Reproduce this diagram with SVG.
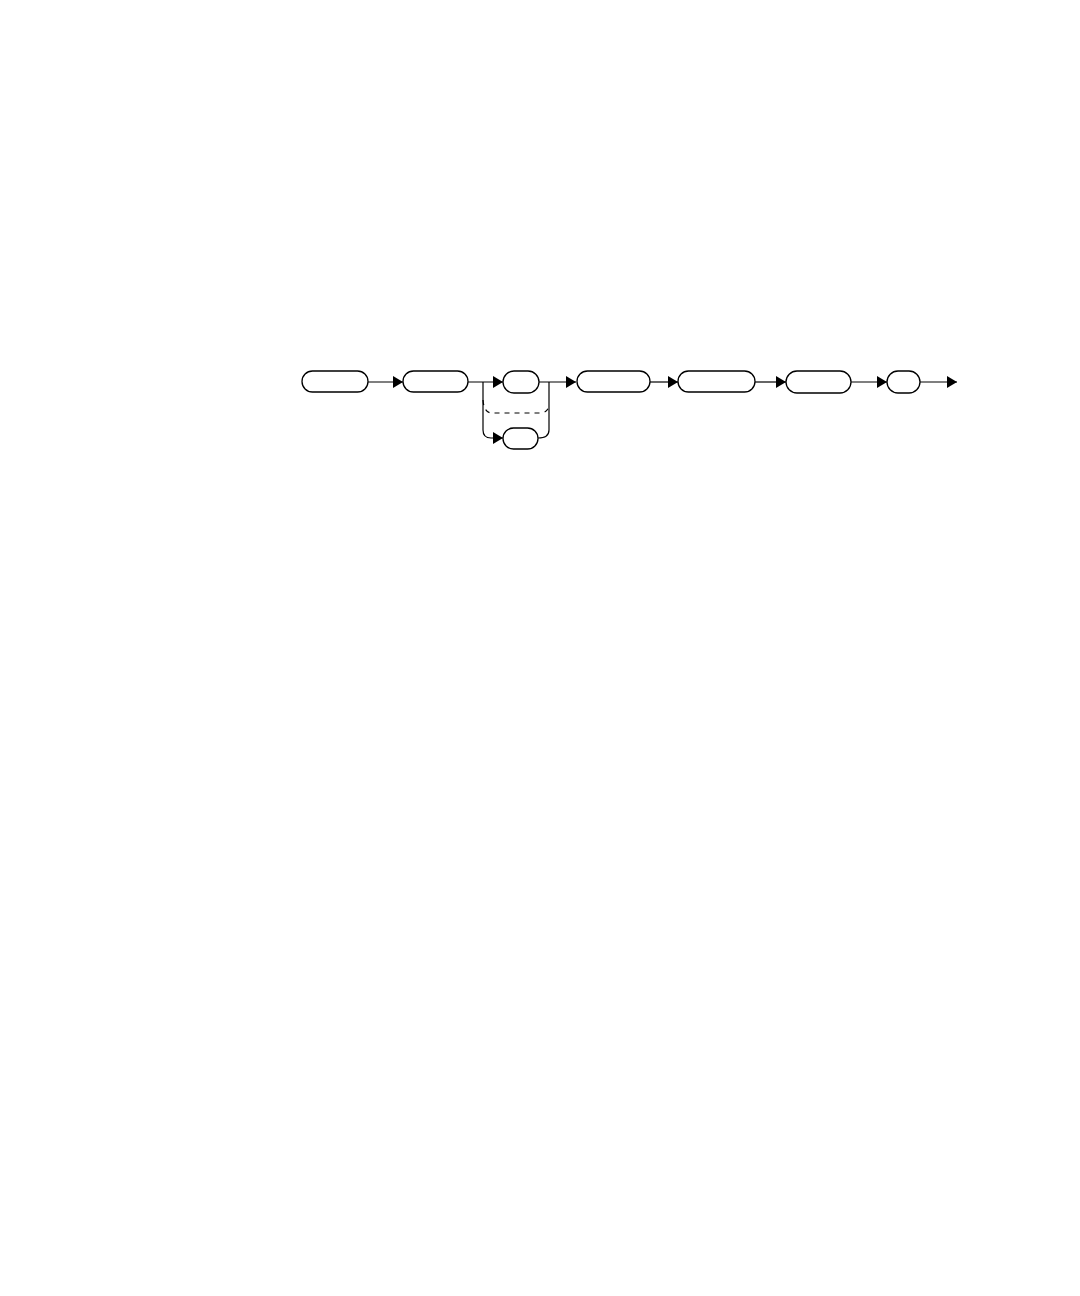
<svg xmlns="http://www.w3.org/2000/svg" width="1080" height="1296" viewBox="0 0 1080 1296">
<style>
.n{fill:#fff;stroke:#000;stroke-width:1.3}
.c{fill:none;stroke:#000;stroke-width:1.2}
.d{fill:none;stroke:#000;stroke-width:1.2;stroke-dasharray:5 5}
</style>
<defs>
<marker id="a" viewBox="0 0 10 12" refX="10" refY="6" markerWidth="10" markerHeight="12" markerUnits="userSpaceOnUse" orient="auto">
<path d="M0,0 L10,6 L0,12 Z" fill="#000"/>
</marker>
</defs>
<rect width="1080" height="1296" fill="#fff"/>
<g id="connectors">
<path class="c" d="M368,382 H403" marker-end="url(#a)"/>
<path class="c" d="M468,382 H503" marker-end="url(#a)"/>
<path class="c" d="M539,382 H576" marker-end="url(#a)"/>
<path class="c" d="M650,382 H678" marker-end="url(#a)"/>
<path class="c" d="M755,382 H786" marker-end="url(#a)"/>
<path class="c" d="M851,382 H887" marker-end="url(#a)"/>
<path class="c" d="M920,382 H957" marker-end="url(#a)"/>
<path class="c" d="M483,382 V430 Q483,438 491,438 H503" marker-end="url(#a)"/>
<path class="c" d="M549,382 V430 Q549,438 538,438"/>
<path class="d" d="M483,400 Q484,413 492,413 H540 Q548,413 549,405"/>
</g>
<g id="n1"><rect class="n" x="302" y="371" width="66" height="21" rx="10.5"/></g>
<g id="n2"><rect class="n" x="403" y="371" width="65" height="21" rx="10.5"/></g>
<g id="n3"><rect class="n" x="503" y="371" width="36" height="22" rx="11"/></g>
<g id="n4"><rect class="n" x="503" y="428" width="35" height="21" rx="10.5"/></g>
<g id="n5"><rect class="n" x="577" y="371" width="73" height="21" rx="10.5"/></g>
<g id="n6"><rect class="n" x="678" y="371" width="77" height="21" rx="10.5"/></g>
<g id="n7"><rect class="n" x="786" y="371" width="65" height="22" rx="11"/></g>
<g id="n8"><rect class="n" x="887" y="371" width="33" height="22" rx="11"/></g>
</svg>
